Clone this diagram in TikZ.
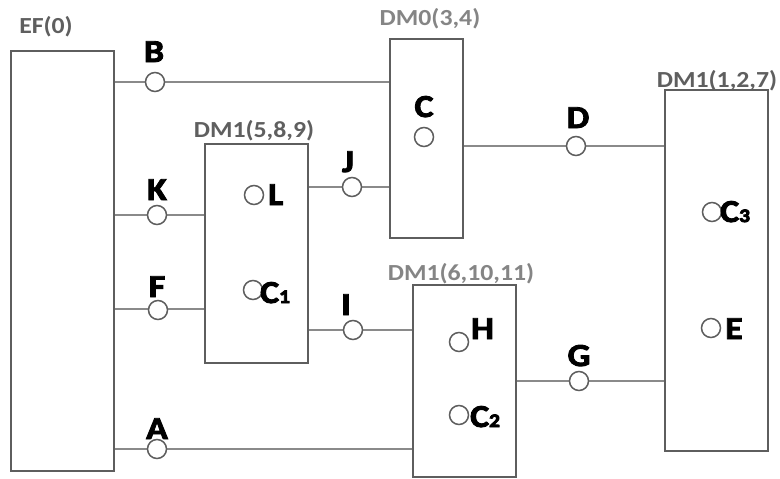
\documentclass[tikz,border=0pt]{standalone}
\usepackage{fontspec}
\setmainfont{Carlito}[FakeStretch=1.12]
\definecolor{boxc}{HTML}{5E5E5E}
\definecolor{linec}{HTML}{8A8A8A}
\definecolor{darkg}{HTML}{5F5F5F}
\definecolor{lightg}{HTML}{858585}
\newcommand{\heavy}[1]{\special{pdf:literal direct 2 Tr 0.9 w 0 G}#1\special{pdf:literal direct 0 Tr}}
\tikzset{
  box/.style={draw=boxc, line width=2.2pt, rectangle, inner sep=0pt},
  port/.style={circle, draw=boxc, fill=white, line width=1.5pt, minimum size=19pt, inner sep=0pt},
  conn/.style={draw=linec, line width=1.3pt},
  glabel/.style={font=\fontsize{23}{23}\selectfont\bfseries, inner sep=0pt, anchor=base},
  blabel/.style={font=\fontsize{32}{32}\selectfont\bfseries, inner sep=0pt, anchor=base, text=black},
  ilabel/.style={font=\fontsize{32}{32}\selectfont\bfseries, inner sep=0pt, anchor=base west, text=black}
}
\newcommand{\subd}[1]{{\fontsize{19}{19}\selectfont #1}}
\begin{document}
\begin{tikzpicture}[x=1pt,y=-1pt]
\useasboundingbox (0,0) rectangle (780,479);
% boxes
\node[box, minimum width=103pt, minimum height=420pt] (EF) at (62.5,261) {};
\node[box, minimum width=73pt, minimum height=199pt] (DM0) at (426.5,138.5) {};
\node[box, minimum width=103pt, minimum height=219pt] (DMa) at (256.5,253.5) {};
\node[box, minimum width=103pt, minimum height=192pt] (DMb) at (464.5,381) {};
\node[box, minimum width=103pt, minimum height=361pt] (DMc) at (716.5,270.5) {};
% box labels
\node[glabel, text=darkg] (tEF) at (46,34) {EF(0)};
\node[glabel, text=lightg] (tDM0) at (430,25) {DM0(3,4)};
\node[glabel, text=darkg] (tDMa) at (254,137) {DM1(5,8,9)};
\node[glabel, text=lightg] (tDMb) at (461,280) {DM1(6,10,11)};
\node[glabel, text=darkg] (tDMc) at (717,87) {DM1(1,2,7)};
% connector anchors
\coordinate (b0) at (EF.east |- 0,82);
\coordinate (b1) at (DM0.west |- 0,82);
\coordinate (k0) at (EF.east |- 0,215);
\coordinate (k1) at (DMa.west |- 0,215);
\coordinate (f0) at (EF.east |- 0,309);
\coordinate (f1) at (DMa.west |- 0,309);
\coordinate (a0) at (EF.east |- 0,449);
\coordinate (a1) at (DMb.west |- 0,449);
\coordinate (j0) at (DMa.east |- 0,187);
\coordinate (j1) at (DM0.west |- 0,187);
\coordinate (i0) at (DMa.east |- 0,330);
\coordinate (i1) at (DMb.west |- 0,330);
\coordinate (d0) at (DM0.east |- 0,146);
\coordinate (d1) at (DMc.west |- 0,146);
\coordinate (g0) at (DMb.east |- 0,381);
\coordinate (g1) at (DMc.west |- 0,381);
\draw[conn] (b0) -- (b1);
\draw[conn] (k0) -- (k1);
\draw[conn] (f0) -- (f1);
\draw[conn] (a0) -- (a1);
\draw[conn] (j0) -- (j1);
\draw[conn] (i0) -- (i1);
\draw[conn] (d0) -- (d1);
\draw[conn] (g0) -- (g1);
% ports
\node[port] (B) at (155,82) {};
\node[port] (K) at (157,215) {};
\node[port] (F) at (158,310) {};
\node[port] (A) at (157,449) {};
\node[port] (J) at (352,187) {};
\node[port] (I) at (353,330) {};
\node[port] (D) at (576,146) {};
\node[port] (G) at (579,381) {};
% inner circles
\node[port] (pC) at (424,137) {};
\node[port] (pL) at (254,195) {};
\node[port] (pC1) at (253,290) {};
\node[port] (pH) at (459,342) {};
\node[port] (pC2) at (459,415) {};
\node[port] (pC3) at (712,212) {};
\node[port] (pE) at (711,328) {};
% port labels
\node[blabel] (lB) at (154,62) {\heavy{B}};
\node[blabel] (lK) at (157,200) {\heavy{K}};
\node[blabel] (lF) at (157,297) {\heavy{F}};
\node[blabel] (lA) at (157,439) {\heavy{A}};
\node[blabel] (lJ) at (348,172) {\heavy{J}};
\node[blabel] (lI) at (346,315) {\heavy{I}};
\node[blabel] (lD) at (578,128) {\heavy{D}};
\node[blabel] (lG) at (579,366) {\heavy{G}};
\node[blabel] (lC) at (424,117) {\heavy{C}};
% inner labels
\node[ilabel] (lL) at (268,205) {\heavy{L}};
\node[ilabel] (lC1) at (260,303) {\heavy{C\subd{1}}};
\node[ilabel] (lH) at (471,339) {\heavy{H}};
\node[ilabel] (lC2) at (470,427) {\heavy{C\subd{2}}};
\node[ilabel] (lC3) at (720,222) {\heavy{C\subd{3}}};
\node[ilabel] (lE) at (725,339) {\heavy{E}};
\end{tikzpicture}
\end{document}
